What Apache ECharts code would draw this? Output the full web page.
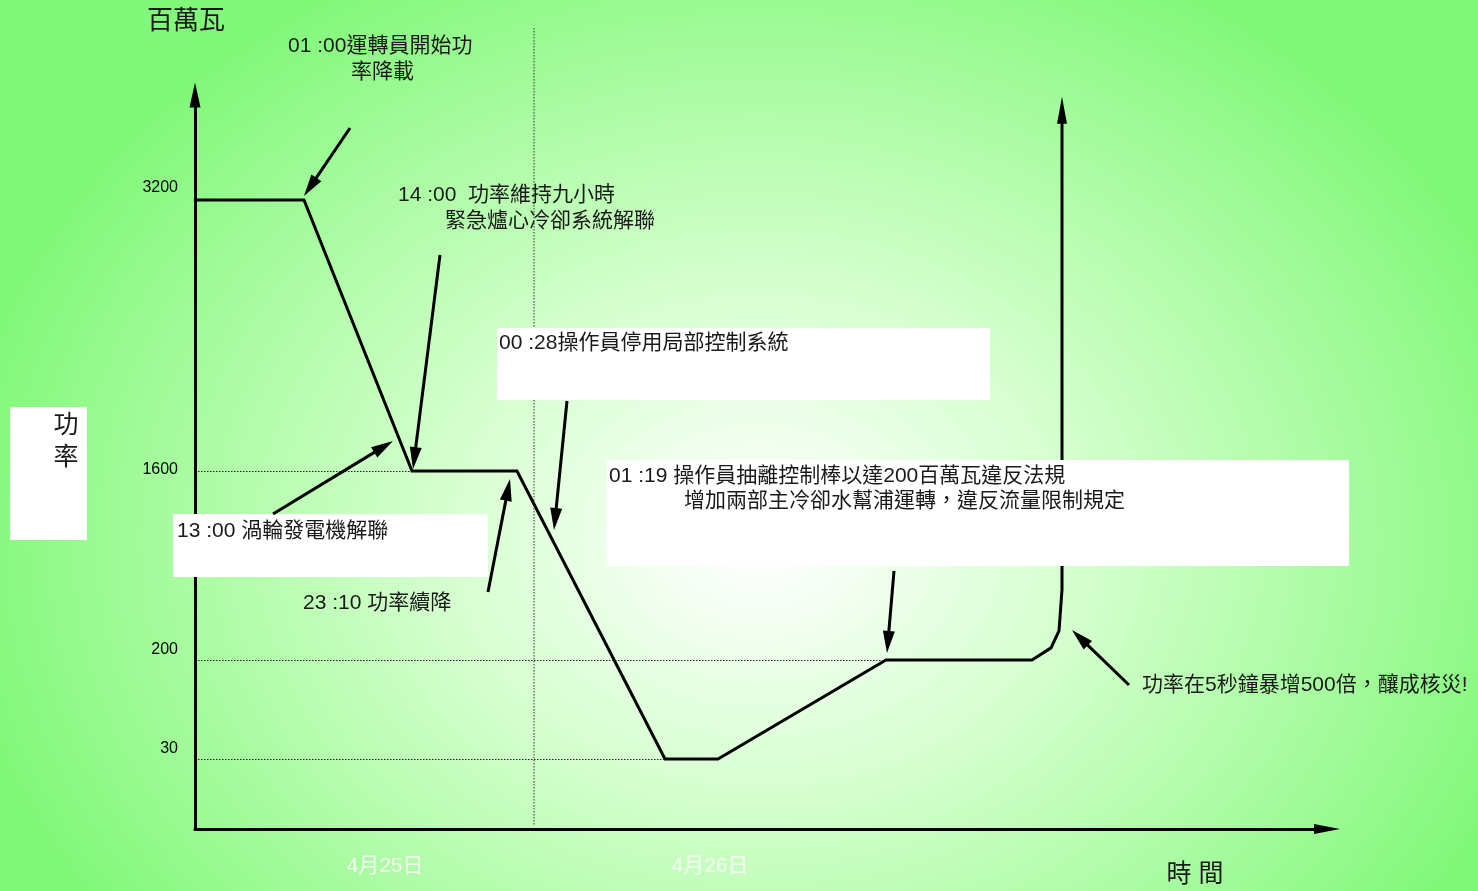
<!DOCTYPE html>
<html><head><meta charset="utf-8">
<script src="https://cdn.jsdelivr.net/npm/echarts@6/dist/echarts.min.js"></script>
<style>
html,body{margin:0;padding:0;width:1478px;height:891px;overflow:hidden;}
body{background: radial-gradient(ellipse 800px 640px at 760px 540px, #ffffff 0%, #f2fff0 14%, #cfffc8 45%, #a6fb9e 75%, #82f87a 100%);}
#chart{width:1478px;height:891px;}
</style></head><body><div id="chart"></div>
<script>
// ---- data ----
// schematic time position of each vertex of the power curve
const timePos = [0, 109, 217, 322, 470, 523, 691, 837, 856, 864, 866, 867, 867];
// reactor power, MW, at each vertex (last point = off-scale surge)
const powerMW = [3200, 3200, 1600, 1600, 30, 30, 200, 200, 290, 415, 620, 720, 3730];
// y tick values (MW)
const powerTicks = [30, 200, 1600, 3200];
// day labels on the time axis
const dayLabels = ['4月25日', '4月26日'];
const dayLabelPos = [190, 515];
// midnight 4/25 -> 4/26
const midnightPos = 339;

// ---- non-linear schematic power scale used by the drawing ----
const scaleMW = [0, 30, 200, 1600, 3200];
const scaleH  = [0, 70, 169, 358, 629];
function toH(mw){
  for (let i = 1; i < scaleMW.length; i++){
    if (mw <= scaleMW[i] || i === scaleMW.length - 1){
      const a = scaleMW[i-1], b = scaleMW[i];
      return scaleH[i-1] + (mw - a) / (b - a) * (scaleH[i] - scaleH[i-1]);
    }
  }
}

const FONT = '"Liberation Sans", Arial, "Noto Sans CJK TC", sans-serif';
const chart = echarts.init(document.getElementById('chart'), null, {renderer:'canvas'});

const seriesData = timePos.map((t, i) => {
  const item = { value: [t, toH(powerMW[i])] };
  if (i === timePos.length - 1){ item.symbol = 'triangle'; item.symbolSize = [10, 27]; }
  return item;
});

// dotted guide lines from the power axis to the first vertex of each level
const guideLines = [];
powerTicks.forEach(p => {
  const idx = powerMW.indexOf(p);
  if (idx >= 0 && timePos[idx] > 0){
    guideLines.push([{coord:[3, toH(p)]}, {coord:[timePos[idx], toH(p)]}]);
  }
});

const tickH = powerTicks.map(toH);
const liftRich = {
  up:  {padding:[0,0,24,0], fontSize:16, color:'#000', fontFamily:FONT},
  up2: {padding:[0,0,20,0], fontSize:16, color:'#000', fontFamily:FONT},
  mid: {padding:[0,0,2,0], fontSize:16, color:'#000', fontFamily:FONT}
};
const liftStyle = {3200:'up', 1600:'mid', 200:'up2', 30:'up2'};

chart.setOption({
  animation:false,
  backgroundColor:'transparent',
  textStyle:{fontFamily:FONT},
  grid:{left:195, right:151, top:95, bottom:62, containLabel:false, outerBoundsMode:'none'},
  xAxis:{
    type:'value', min:0, max:1132,
    axisLine:{show:true, onZero:false, symbol:['none','triangle'], symbolSize:[10,26], lineStyle:{color:'#000', width:3}},
    axisTick:{show:false}, splitLine:{show:false},
    axisLabel:{customValues:dayLabelPos, formatter:v => dayLabels[dayLabelPos.indexOf(v)] || '',
      color:'#f6fff4', fontSize:21, margin:27, fontFamily:FONT}
  },
  yAxis:{
    type:'value', min:0, max:734,
    axisLine:{show:true, onZero:false, symbol:['none','triangle'], symbolSize:[11,25], lineStyle:{color:'#000', width:3}},
    axisTick:{show:false}, splitLine:{show:false},
    axisLabel:{customValues:tickH, margin:17, rich:liftRich,
      formatter:v => {
        let k = 0, best = 1e9;
        tickH.forEach((h, i) => { if (Math.abs(h - v) < best){ best = Math.abs(h - v); k = i; } });
        const p = powerTicks[k];
        return '{' + liftStyle[p] + '|' + p + '}';
      }}
  },
  series:[{
    type:'line', data:seriesData, clip:false,
    symbol:'none', showSymbol:true,
    itemStyle:{color:'#000', borderWidth:0},
    lineStyle:{color:'#000', width:3, join:'miter', cap:'butt'},
    emphasis:{disabled:true}, silent:true, z:3,
    markLine:{
      silent:true, symbol:['none','none'], animation:false,
      label:{show:false}, emphasis:{disabled:true},
      lineStyle:{type:[1.5,1.5], width:1, color:'#222'},
      data:guideLines
    }
  }]
});

// ---- annotations (layout) ----
function arrow(x1, y1, x2, y2){
  const L = 22, W = 6;
  const dx = x2 - x1, dy = y2 - y1, len = Math.hypot(dx, dy);
  const ux = dx / len, uy = dy / len;
  const bx = x2 - ux * L, by = y2 - uy * L;
  const px = -uy, py = ux;
  return [
    {type:'line', z:120, silent:true, shape:{x1, y1, x2:bx + ux*2, y2:by + uy*2}, style:{stroke:'#000', lineWidth:3}},
    {type:'polygon', z:120, silent:true, shape:{points:[[x2,y2],[bx+px*W,by+py*W],[bx-px*W,by-py*W]]}, style:{fill:'#000'}}
  ];
}
function box(x, y, w, h){
  return {type:'rect', z:100, silent:true, shape:{x, y, width:w, height:h}, style:{fill:'#ffffff'}};
}
function txt(s, x, y, size, align){
  return {type:'text', z:110, silent:true, style:{text:s, x, y, fill:'#1a1a1a',
    font: size + 'px ' + FONT, align: align || 'left', verticalAlign:'middle'}};
}

const mx = chart.convertToPixel({xAxisIndex:0}, midnightPos);

const g = [];
g.push({type:'line', z:50, silent:true, shape:{x1:mx, y1:28, x2:mx, y2:826},
  style:{stroke:'#333', lineWidth:1, lineDash:[1.5,1.5]}});
g.push(box(10, 407, 77, 133));
g.push(box(173, 514, 315, 63));
g.push(box(497, 328, 493, 72));
g.push(box(607, 460, 742, 106));

g.push(txt('百萬瓦', 186, 22, 26, 'center'));
g.push(txt('功', 66, 426, 25, 'center'));
g.push(txt('率', 66, 458, 25, 'center'));
g.push(txt('時 間', 1195, 875, 25, 'center'));

g.push(txt('01 :00運轉員開始功', 288, 46, 21));
g.push(txt('率降載', 351, 72, 21));
g.push(txt('14 :00  功率維持九小時', 398, 195, 21));
g.push(txt('緊急爐心冷卻系統解聯', 445, 221, 21));
g.push(txt('00 :28操作員停用局部控制系統', 499, 343, 21));
g.push(txt('01 :19 操作員抽離控制棒以達200百萬瓦違反法規', 609, 476, 21));
g.push(txt('增加兩部主冷卻水幫浦運轉，違反流量限制規定', 684, 501, 21));
g.push(txt('13 :00 渦輪發電機解聯', 177, 531, 21));
g.push(txt('23 :10 功率續降', 303, 603, 21));
g.push(txt('功率在5秒鐘暴增500倍，釀成核災!', 1142, 685, 21));

[[350,128,304,196],[440,255,413,469],[273,514,393,441],[488,592,510,479],
 [567,401,554,530],[894,571,887,653],[1129,685,1072,630]].forEach(a => g.push(...arrow(...a)));

chart.setOption({graphic:{elements:g}});
</script></body></html>
